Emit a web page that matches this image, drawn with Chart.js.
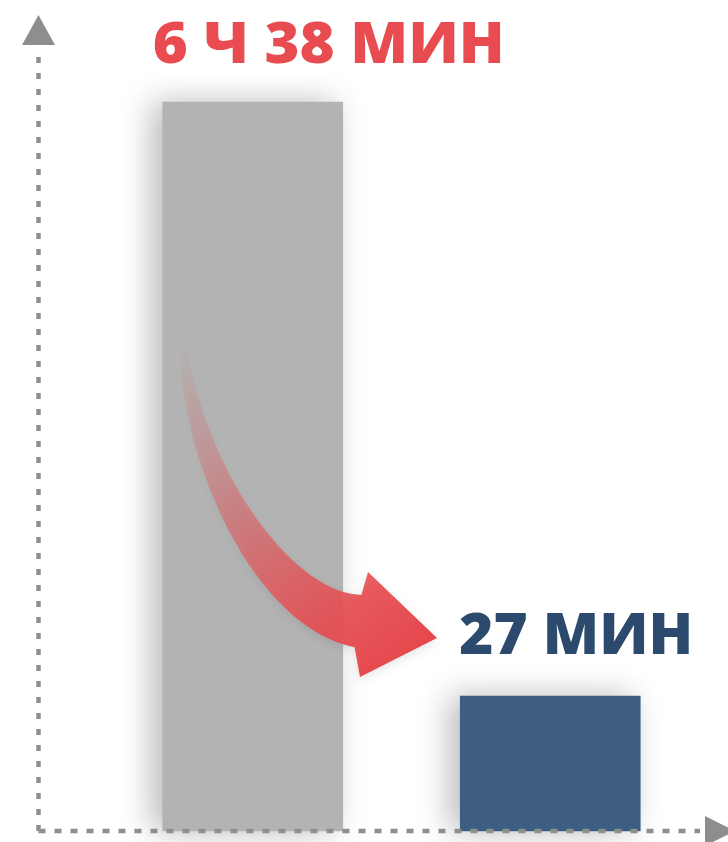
<!DOCTYPE html>
<html>
<head>
<meta charset="utf-8">
<script src="https://cdn.jsdelivr.net/npm/chart.js@4/dist/chart.umd.min.js"></script>
<style>
  html, body { margin: 0; padding: 0; background: #ffffff; }
  #wrap { width: 728px; height: 842px; position: relative; }
</style>
</head>
<body>
<div id="wrap"><canvas id="c" width="728" height="842"></canvas></div>
<script>
// ---- data ----
const categories = ['До', 'После'];
const minutesValues = [398, 27];               // 6 ч 38 мин, 27 мин
const valueLabels = ['6 Ч 38 МИН', '27 МИН'];
const barColors = ['#b3b3b3', '#3d5e81'];
const labelColors = ['#e94c50', '#2c4a6d'];

// label placement relative to each bar (left offset from bar left edge, baseline above bar top), target text width
const labelOffsets = [{dx: -10, dy: 39, w: 352}, {dx: -1, dy: 42, w: 234}];

const axisColor = '#8e8e8e';

const shadowPlugin = {
  id: 'barShadow',
  beforeDatasetsDraw(chart) {
    const ctx = chart.ctx;
    ctx.save();
    ctx.shadowColor = 'rgba(0,0,0,0.28)';
    ctx.shadowBlur = 30;
    ctx.shadowOffsetX = -10;
    ctx.shadowOffsetY = 0;
  },
  afterDatasetsDraw(chart) {
    chart.ctx.restore();
  }
};

const decorPlugin = {
  id: 'decor',
  afterDraw(chart) {
    const ctx = chart.ctx;
    const area = chart.chartArea;
    const yScale = chart.scales.y;
    const meta = chart.getDatasetMeta(0);

    // curved arrow (annotation)
    const P0 = {x: 183, y: 343}, P1 = {x: 193, y: 470}, P2 = {x: 275, y: 610}, P3 = {x: 358, y: 621};
    const N = 80;
    const upper = [], lower = [];
    for (let i = 0; i <= N; i++) {
      const t = i / N, u = 1 - t;
      const x = u*u*u*P0.x + 3*u*u*t*P1.x + 3*u*t*t*P2.x + t*t*t*P3.x;
      const y = u*u*u*P0.y + 3*u*u*t*P1.y + 3*u*t*t*P2.y + t*t*t*P3.y;
      const dx = 3*u*u*(P1.x-P0.x) + 6*u*t*(P2.x-P1.x) + 3*t*t*(P3.x-P2.x);
      const dy = 3*u*u*(P1.y-P0.y) + 6*u*t*(P2.y-P1.y) + 3*t*t*(P3.y-P2.y);
      const len = Math.hypot(dx, dy) || 1;
      const nx = -dy/len, ny = dx/len;
      const h = (7 + 46*t) / 2;
      upper.push([x - nx*h, y - ny*h]);
      lower.push([x + nx*h, y + ny*h]);
    }
    ctx.save();
    const g = ctx.createLinearGradient(183, 343, 432, 636);
    g.addColorStop(0, 'rgba(233,76,80,0)');
    g.addColorStop(0.3, 'rgba(233,80,84,0.32)');
    g.addColorStop(0.6, 'rgba(231,82,86,0.72)');
    g.addColorStop(0.8, 'rgba(230,78,82,0.93)');
    g.addColorStop(1, 'rgba(229,72,77,1)');
    ctx.fillStyle = g;
    ctx.shadowColor = 'rgba(0,0,0,0.10)';
    ctx.shadowBlur = 10;
    ctx.shadowOffsetY = 3;
    ctx.lineJoin = 'round';
    ctx.beginPath();
    ctx.moveTo(upper[0][0], upper[0][1]);
    for (let i = 1; i < upper.length; i++) ctx.lineTo(upper[i][0], upper[i][1]);
    ctx.lineTo(368, 572);
    ctx.lineTo(437, 638);
    ctx.lineTo(360, 677);
    for (let i = lower.length - 1; i >= 0; i--) ctx.lineTo(lower[i][0], lower[i][1]);
    ctx.closePath();
    ctx.fill();
    ctx.restore();

    // value labels
    meta.data.forEach((bar, i) => {
      const off = labelOffsets[i];
      const left = bar.x - bar.width / 2 + off.dx;
      const base = bar.y - off.dy;
      ctx.save();
      ctx.font = "800 57px 'Open Sans', 'Noto Sans', sans-serif";
      ctx.textBaseline = 'alphabetic';
      ctx.textAlign = 'left';
      ctx.fillStyle = labelColors[i];
      const m = ctx.measureText(valueLabels[i]);
      const sx = off.w / m.width;
      ctx.translate(left, base);
      ctx.scale(sx, 1);
      ctx.fillText(valueLabels[i], 0, 0);
      ctx.restore();
    });

    // dotted axes with arrows
    const ax = yScale.left + 0.5;
    const ay = area.bottom;
    ctx.save();
    ctx.strokeStyle = axisColor;
    ctx.lineWidth = 4.5;
    ctx.setLineDash([6, 10]);
    ctx.beginPath();
    ctx.moveTo(ax, ay);
    ctx.lineTo(ax, 50);
    ctx.stroke();
    ctx.setLineDash([7, 9]);
    ctx.beginPath();
    ctx.moveTo(ax, ay);
    ctx.lineTo(700, ay);
    ctx.stroke();
    ctx.setLineDash([]);
    ctx.fillStyle = axisColor;
    ctx.beginPath();
    ctx.moveTo(ax, 15);
    ctx.lineTo(ax + 16.5, 45);
    ctx.lineTo(ax - 16.5, 45);
    ctx.closePath();
    ctx.fill();
    ctx.beginPath();
    ctx.moveTo(735, ay);
    ctx.lineTo(705, ay - 15);
    ctx.lineTo(705, ay + 15);
    ctx.closePath();
    ctx.fill();
    ctx.restore();
  }
};

new Chart(document.getElementById('c'), {
  type: 'bar',
  data: {
    labels: categories,
    datasets: [{
      data: minutesValues,
      backgroundColor: barColors,
      borderWidth: 0,
      barThickness: 180,
      clip: false
    }]
  },
  options: {
    responsive: false,
    animation: false,
    events: [],
    layout: { padding: { left: 38, right: 29, top: 45, bottom: 11 } },
    plugins: { legend: { display: false }, tooltip: { enabled: false }, title: { display: false } },
    scales: {
      x: { display: false, offset: true },
      y: {
        type: 'logarithmic',
        min: 14.65,
        max: 515.3,
        display: true,
        ticks: { display: false },
        grid: { display: false, drawTicks: false },
        border: { display: false },
        afterFit(scale) { scale.width = 66; }
      }
    }
  },
  plugins: [shadowPlugin, decorPlugin]
});
</script>
</body>
</html>
